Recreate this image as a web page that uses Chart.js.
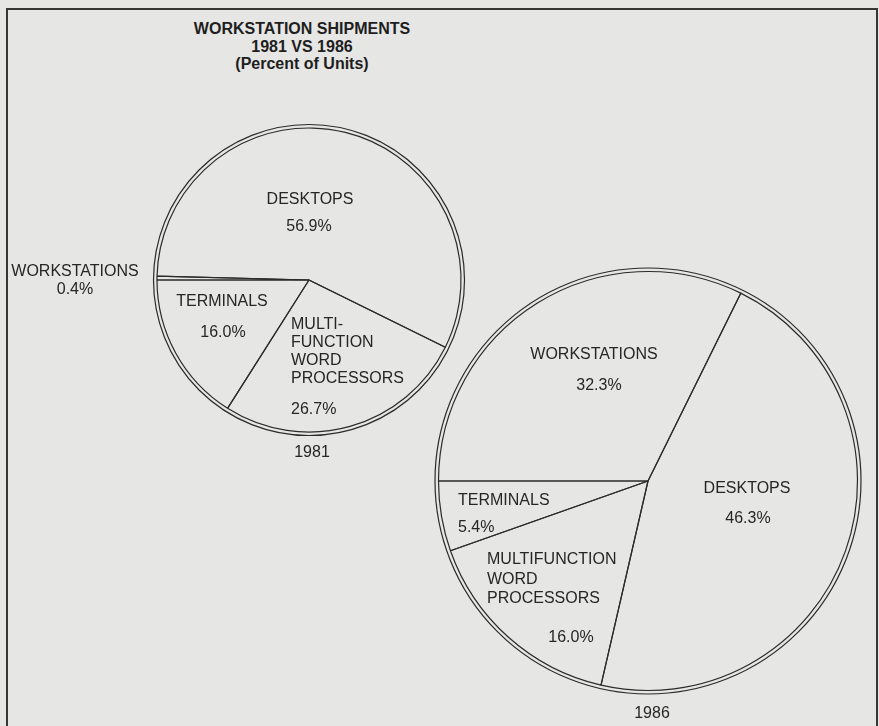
<!DOCTYPE html>
<html><head><meta charset="utf-8">
<script src="https://cdn.jsdelivr.net/npm/chart.js@4.4.0/dist/chart.umd.min.js"></script>
<style>
html,body{margin:0;padding:0;}
body{width:879px;height:726px;overflow:hidden;background:#e6e6e5;position:relative;font-family:"Liberation Sans",Arial,Helvetica,sans-serif;color:#262626;}
#frame{position:absolute;left:6px;top:8px;width:868px;height:740px;border:2px solid #363636;border-bottom:none;}
.box{position:absolute;}
.lbl{position:absolute;font-size:16px;line-height:18px;white-space:nowrap;}
.title{position:absolute;left:302px;top:20px;transform:translateX(-50%);font-weight:bold;font-size:16px;line-height:17.5px;text-align:center;white-space:nowrap;color:#1e1e1e;}
</style></head><body>
<div id="frame"></div>
<div class="title" id="title"></div>
<div class="box" id="b1981"><canvas id="c1981" width="340" height="340"></canvas></div>
<div class="box" id="b1986"><canvas id="c1986" width="460" height="460"></canvas></div>
<script>
// ---- data ----
const titleLines = ["WORKSTATION SHIPMENTS", "1981 VS 1986", "(Percent of Units)"];
const categories = ["DESKTOPS", "MULTIFUNCTION WORD PROCESSORS", "TERMINALS", "WORKSTATIONS"];
const years = ["1981", "1986"];
const shares1981 = [56.9, 26.7, 16.0, 0.4];
const shares1986 = [46.3, 16.0, 5.4, 32.3];

// ---- layout (positions only) ----
const layout = {
  "1981": {
    box: {left: 139, top: 110, size: 340}, radius: 152,
    year: {x: 312, y: 452},
    labels: [
      {lines: ["DESKTOPS"], x: 310, y: 199, align: "center", pct: {x: 309, y: 226, align: "center"}},
      {lines: ["MULTI-", "FUNCTION", "WORD", "PROCESSORS"], x: 291, y: 324, gap: 18, align: "left", pct: {x: 291, y: 409, align: "left"}},
      {lines: ["TERMINALS"], x: 222, y: 301, align: "center", pct: {x: 223, y: 332, align: "center"}},
      {lines: ["WORKSTATIONS"], x: 75, y: 271, align: "center", pct: {x: 75, y: 289, align: "center"}}
    ]
  },
  "1986": {
    box: {left: 418, top: 251, size: 460}, radius: 209.5,
    year: {x: 652, y: 713},
    labels: [
      {lines: ["DESKTOPS"], x: 747, y: 488, align: "center", pct: {x: 748, y: 518, align: "center"}},
      {lines: ["MULTIFUNCTION", "WORD", "PROCESSORS"], x: 487, y: 559, gap: 19.5, align: "left", pct: {x: 571, y: 637, align: "center"}},
      {lines: ["TERMINALS"], x: 458, y: 500, align: "left", pct: {x: 458, y: 527, align: "left"}},
      {lines: ["WORKSTATIONS"], x: 594, y: 354, align: "center", pct: {x: 599, y: 385, align: "center"}}
    ]
  }
};

const INK = "#2b2b2b";
document.getElementById("title").innerHTML = titleLines.join("<br>");

function addText(text, x, y, align) {
  const d = document.createElement("div");
  d.className = "lbl";
  d.textContent = text;
  d.style.left = x + "px";
  d.style.top = y + "px";
  d.style.transform = align === "center" ? "translate(-50%,-50%)" : "translate(0,-50%)";
  document.body.appendChild(d);
}

const outerRing = {
  id: "outerRing",
  afterDatasetsDraw(chart, args, opts) {
    const arc = chart.getDatasetMeta(0).data[0];
    if (!arc) return;
    const ctx = chart.ctx;
    ctx.save();
    ctx.strokeStyle = opts.color;
    ctx.lineWidth = opts.width;
    ctx.beginPath();
    ctx.arc(arc.x, arc.y, arc.outerRadius + opts.gap, 0, Math.PI * 2);
    ctx.stroke();
    ctx.restore();
  }
};

function makePie(year, shares) {
  const L = layout[year];
  const box = document.getElementById("b" + year);
  box.style.left = L.box.left + "px";
  box.style.top = L.box.top + "px";
  const wsShare = shares[categories.indexOf("WORKSTATIONS")];
  new Chart(document.getElementById("c" + year), {
    type: "pie",
    data: {
      labels: categories,
      datasets: [{
        data: shares,
        backgroundColor: "rgba(0,0,0,0)",
        borderColor: INK,
        borderWidth: 1.2,
        borderAlign: "center"
      }]
    },
    options: {
      responsive: false,
      animation: false,
      radius: L.radius,
      rotation: (270 + wsShare * 3.6) % 360,
      layout: {padding: 0},
      plugins: {
        legend: {display: false},
        tooltip: {enabled: false},
        outerRing: {color: INK, width: 1.2, gap: 3.5}
      }
    },
    plugins: [outerRing]
  });
  L.labels.forEach((lab, i) => {
    const gap = lab.gap || 18;
    lab.lines.forEach((t, j) => addText(t, lab.x, lab.y + j * gap, lab.align));
    addText(shares[i].toFixed(1) + "%", lab.pct.x, lab.pct.y, lab.pct.align);
  });
  addText(year, L.year.x, L.year.y, "center");
}

makePie(years[0], shares1981);
makePie(years[1], shares1986);
</script>
</body></html>
